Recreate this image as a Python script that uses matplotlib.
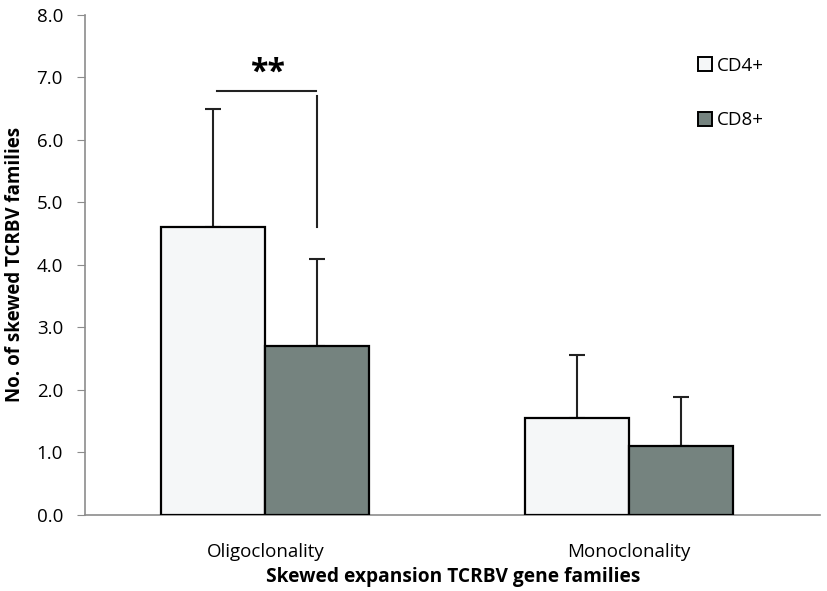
import matplotlib

matplotlib.use("Agg")

import matplotlib.pyplot as plt
import numpy as np
from matplotlib.patches import Patch

plt.rcParams["font.family"] = ["Open Sans", "DejaVu Sans"]

categories = ["Oligoclonality", "Monoclonality"]
series_names = ["CD4+", "CD8+"]
cd4_mean = [4.6, 1.55]
cd4_err = [1.9, 1.0]
cd8_mean = [2.7, 1.1]
cd8_err = [1.4, 0.78]
yticks = [0.0, 1.0, 2.0, 3.0, 4.0, 5.0, 6.0, 7.0, 8.0]

CD4_COLOR = "#F5F7F8"
CD8_COLOR = "#75837F"
SPINE_COLOR = "#8C8C8C"

fig = plt.figure(figsize=(8.27, 5.91), dpi=100)
ax = fig.add_axes([0.103, 0.129, 0.889, 0.846])

x = np.array([0.5, 1.5])
width = 0.286
bar_kw = dict(edgecolor="black", linewidth=1.6, zorder=3)
err_kw = dict(ecolor="#222222", elinewidth=1.5, capsize=6, capthick=1.5)

ax.bar(x - width / 2, cd4_mean, width, color=CD4_COLOR, label=series_names[0], **bar_kw)
ax.bar(x + width / 2, cd8_mean, width, color=CD8_COLOR, label=series_names[1], **bar_kw)
# one-sided (upper) error bars, as in the original
ax.errorbar(x - width / 2, cd4_mean, yerr=[np.zeros(2), cd4_err], fmt="none", zorder=2, **err_kw)
ax.errorbar(x + width / 2, cd8_mean, yerr=[np.zeros(2), cd8_err], fmt="none", zorder=2, **err_kw)

# significance bracket over the oligoclonality pair
x_left = x[0] - width / 2 + 0.01
x_right = x[0] + width / 2
ax.plot([x_left, x_right - 0.005], [6.78, 6.78], color="#222222", linewidth=1.5, zorder=4)
ax.plot([x_right, x_right], [6.7, 4.6], color="#222222", linewidth=1.5, zorder=4)
ax.text(x[0] + 0.005, 6.8, "**", ha="center", va="bottom", fontsize=23, fontweight="bold")

ax.set_xlim(0.005, 2.025)
ax.set_ylim(0, 8)
ax.set_yticks(yticks)
ax.set_yticklabels([f"{v:.1f}" for v in yticks], fontsize=13.5)
ax.set_xticks(x)
ax.set_xticklabels(categories, fontsize=13.5)
ax.tick_params(axis="x", length=0, pad=20)
ax.tick_params(axis="y", length=6, color=SPINE_COLOR, pad=10)

for side in ("top", "right"):
    ax.spines[side].set_visible(False)
for side in ("left", "bottom"):
    ax.spines[side].set_color(SPINE_COLOR)
    ax.spines[side].set_linewidth(1.2)

ax.set_ylabel("No. of skewed TCRBV families", fontsize=13.5, fontweight="bold", labelpad=8)
ax.set_xlabel("Skewed expansion TCRBV gene families", fontsize=13.8, fontweight="bold", labelpad=5)

handles = [
    Patch(facecolor=CD4_COLOR, edgecolor="black", linewidth=1.4),
    Patch(facecolor=CD8_COLOR, edgecolor="black", linewidth=1.4),
]
ax.legend(
    handles,
    series_names,
    loc="upper left",
    bbox_to_anchor=(0.81, 0.95),
    frameon=False,
    fontsize=13.5,
    handlelength=0.75,
    handleheight=0.75,
    handletextpad=0.3,
    labelspacing=1.95,
)

fig.savefig("out.png", dpi=100)
